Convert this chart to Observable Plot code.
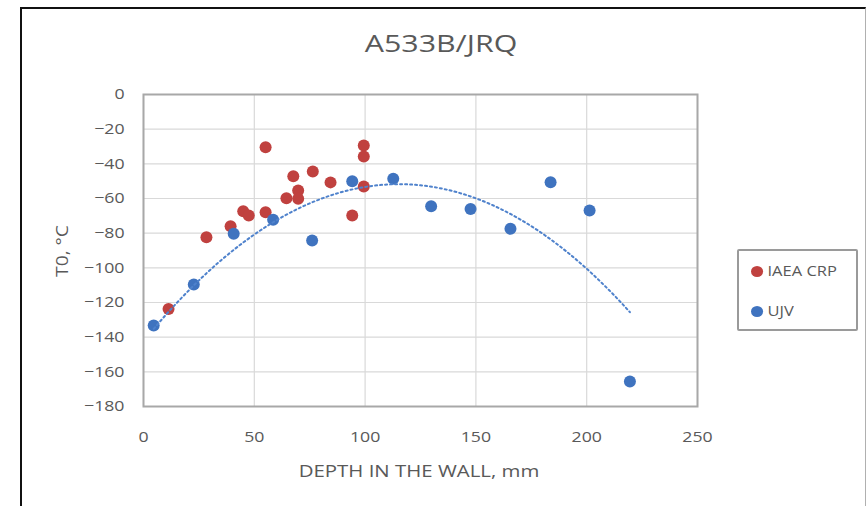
<!DOCTYPE html>
<html>
<head>
<meta charset="utf-8">
<script src="https://cdn.jsdelivr.net/npm/d3@7"></script>
<script src="https://cdn.jsdelivr.net/npm/@observablehq/plot@0.6"></script>
<style>
  html, body { margin: 0; padding: 0; background: #fff; }
  #wrap { position: relative; width: 867px; height: 506px; overflow: hidden; font-family: "Open Sans", sans-serif; color: #595959; }
  #wrap svg { position: absolute; left: 0; top: 0; }
  .frame { position: absolute; left: 20px; top: 7px; width: 843px; height: 520px;
           border-left: 2px solid #111; border-top: 2px solid #111; border-right: 1px solid #b0b0b0; }
  .title { position: absolute; left: 441px; top: 43px; font-size: 23px; white-space: nowrap; transform: translate(-50%, -50%) scaleX(1.32); }
  .xlabel { position: absolute; left: 419px; top: 470px; font-size: 17px; white-space: nowrap; transform: translate(-50%, -50%) scaleX(1.2); }
  .ylabel { position: absolute; left: 62px; top: 251px; transform: translate(-50%, -50%) rotate(-90deg) scaleX(1.2); font-size: 16px; white-space: nowrap; }
  .legend { position: absolute; left: 737px; top: 249px; width: 117px; height: 78px; border: 2px solid #9a9a9a; border-radius: 2px; }
  .item { position: absolute; left: 12px; font-size: 15px; white-space: nowrap; transform-origin: left center; transform: scaleX(1.1); }
  .item span { display: inline-block; width: 11px; height: 11px; border-radius: 50%; margin-right: 4px; vertical-align: -1px; }
</style>
</head>
<body>
<div id="wrap">
  <div class="frame"></div>
  <div class="title">A533B/JRQ</div>
  <div class="ylabel">T0, °C</div>
  <div class="xlabel">DEPTH IN THE WALL, mm</div>
  <div class="legend">
    <div class="item" style="top:9px"><span style="background:#c0413f"></span>IAEA CRP</div>
    <div class="item" style="top:49px"><span style="background:#3f73bf"></span>UJV</div>
  </div>
</div>
<script>
const seriesNames = ["IAEA CRP", "UJV"];
const iaeaX = [11.3, 28.4, 39.3, 45.0, 47.5, 55.1, 55.1, 64.5, 67.6, 69.8, 69.8, 76.4, 84.4, 94.2, 99.4, 99.4, 99.4];
const iaeaY = [-123.7, -82.4, -76.0, -67.4, -69.8, -30.4, -67.9, -59.8, -47.1, -55.4, -60.2, -44.4, -50.7, -69.8, -29.4, -35.8, -53.1];
const ujvX = [4.6, 22.7, 40.7, 58.5, 76.1, 94.2, 112.7, 129.8, 147.6, 165.6, 183.7, 201.3, 219.5];
const ujvY = [-133.3, -109.6, -80.4, -72.3, -84.2, -50.0, -48.6, -64.5, -66.0, -77.5, -50.6, -66.9, -165.6];
const xTicks = [0, 50, 100, 150, 200, 250];
const yTicks = [0, -20, -40, -60, -80, -100, -120, -140, -160, -180];
const colors = ["#c0413f", "#3f73bf"];

const iaea = iaeaX.map((x, i) => ({x, y: iaeaY[i], s: seriesNames[0]}));
const ujv = ujvX.map((x, i) => ({x, y: ujvY[i], s: seriesNames[1]}));

// Polynomial (order 2) trendline of the UJV series, least squares
function quadFit(xs, ys) {
  let S = [0,0,0,0,0], T = [0,0,0];
  xs.forEach((x, i) => { let p = 1; for (let k = 0; k < 5; k++) { S[k] += p; if (k < 3) T[k] += p * ys[i]; p *= x; } });
  const A = [[S[0],S[1],S[2],T[0]],[S[1],S[2],S[3],T[1]],[S[2],S[3],S[4],T[2]]];
  for (let c = 0; c < 3; c++) {
    for (let r = c + 1; r < 3; r++) { const f = A[r][c] / A[c][c]; for (let k = c; k < 4; k++) A[r][k] -= f * A[c][k]; }
  }
  const b = [0,0,0];
  for (let r = 2; r >= 0; r--) { let s = A[r][3]; for (let k = r + 1; k < 3; k++) s -= A[r][k] * b[k]; b[r] = s / A[r][r]; }
  return b;
}
const coef = quadFit(ujvX, ujvY);
const x0 = d3.min(ujvX), x1 = d3.max(ujvX);
const trend = d3.range(0, 101).map(i => { const x = x0 + (x1 - x0) * i / 100; return {x, y: coef[0] + coef[1]*x + coef[2]*x*x}; });

const chart = Plot.plot({
  width: 867, height: 506,
  marginLeft: 143, marginRight: 170, marginTop: 94, marginBottom: 100,
  style: {fontFamily: "Open Sans, sans-serif", fontSize: "15px", color: "#595959", background: "transparent"},
  x: {domain: [0, 250], ticks: xTicks, tickFormat: d => String(d), label: null},
  y: {domain: [-180, 0], ticks: yTicks, tickFormat: d => String(d), label: null},
  marks: [
    Plot.gridX(xTicks, {stroke: "#d9d9d9", strokeOpacity: 1, strokeWidth: 1.2}),
    Plot.gridY(yTicks, {stroke: "#d9d9d9", strokeOpacity: 1, strokeWidth: 1.2}),
    Plot.frame({stroke: "#a8a8a8", strokeWidth: 2}),
    Plot.axisX({ticks: xTicks, tickSize: 0, tickPadding: 25, fontSize: 15, fill: "#595959"}),
    Plot.axisY({ticks: yTicks, tickSize: 0, tickPadding: 19, fontSize: 15, fill: "#595959"}),
    Plot.dot(iaea, {x: "x", y: "y", r: 6, fill: colors[0], stroke: null}),
    Plot.dot(ujv, {x: "x", y: "y", r: 6, fill: colors[1], stroke: null}),
    Plot.line(trend, {x: "x", y: "y", stroke: "#4f82cc", strokeWidth: 2, strokeDasharray: "2,3"})
  ]
});
const wrap = document.getElementById("wrap");
wrap.insertBefore(chart, wrap.firstChild);
// widen the tick labels horizontally, as in the reference
chart.querySelectorAll('g[aria-label$="tick label"] text').forEach(t => {
  const tr = t.getAttribute("transform") || "";
  t.setAttribute("transform", tr + " scale(1.18,1)");
});
</script>
</body>
</html>
